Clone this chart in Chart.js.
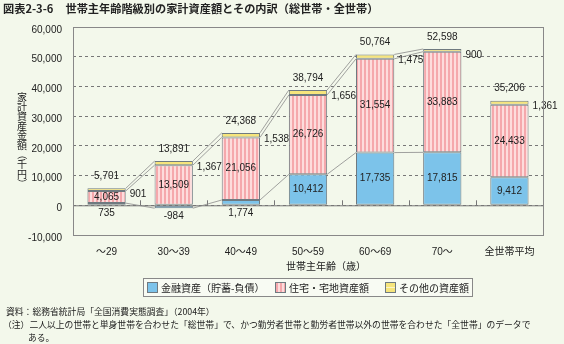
<!DOCTYPE html>
<html>
<head>
<meta charset="utf-8">
<script src="https://cdn.jsdelivr.net/npm/chart.js@4.4.1/dist/chart.umd.min.js"></script>
<style>
  body { margin: 0; background: #f3f8eb; font-family: 'Liberation Sans', 'Noto Sans CJK JP', sans-serif; }
  #wrap { position: relative; width: 564px; height: 344px; overflow: hidden; }
  #c { position: absolute; left: 0; top: 0; }
  .title { position: absolute; left: 3px; top: 0px; font: bold 11.2px 'Noto Sans CJK JP', sans-serif; color: #222; white-space: nowrap; }
  .title span { margin-left: 12px; }
  .note { position: absolute; left: 6px; font: 8.8px 'Noto Sans CJK JP', sans-serif; color: #222; white-space: nowrap; }
</style>
</head>
<body>
<div id="wrap">
  <canvas id="c" width="564" height="344"></canvas>
  <div class="title">図表2-3-6<span>世帯主年齢階級別の家計資産額とその内訳（総世帯・全世帯）</span></div>
  <div class="note" style="top:305px">資料：総務省統計局「全国消費実態調査」（2004年）</div>
  <div class="note" style="top:318px; left:3px">（注）二人以上の世帯と単身世帯を合わせた「総世帯」で、かつ勤労者世帯と勤労者世帯以外の世帯を合わせた「全世帯」のデータで</div>
  <div class="note" style="top:331px; left:28px">ある。</div>
</div>
<script>
const categories = ['～29', '30～39', '40～49', '50～59', '60～69', '70～', '全世帯平均'];
const financial = [735, -984, 1774, 10412, 17735, 17815, 9412];
const housing = [4065, 13509, 21056, 26726, 31554, 33883, 24433];
const other = [901, 1367, 1538, 1656, 1475, 900, 1361];
const totals = [5701, 13891, 24368, 38794, 50764, 52598, 35206];
const seriesNames = ['金融資産（貯蓄-負債）', '住宅・宅地資産額', 'その他の資産額'];
const yMin = -10000, yMax = 60000, yStep = 10000;
const xTitle = '世帯主年齢（歳）';
const yTitle = '家計資産金額（千円）';

const numFont = "10px 'Liberation Sans', 'Noto Sans CJK JP', sans-serif";
const jpFont = "10px 'Noto Sans CJK JP', sans-serif";
const fmt = v => v.toLocaleString('en-US');

// pink vertical stripes
function stripes() {
  const p = document.createElement('canvas');
  p.width = 4; p.height = 4;
  const g = p.getContext('2d');
  g.fillStyle = '#fddcdc'; g.fillRect(0, 0, 4, 4);
  g.fillStyle = '#f5a8ac'; g.fillRect(0, 0, 2, 4);
  return g.createPattern(p, 'repeat');
}
const ctx = document.getElementById('c').getContext('2d');
const pink = stripes();
const colors = ['#7cc3ea', pink, '#f6e57c'];

const extras = {
  id: 'extras',
  beforeDatasetsDraw(chart) {
    const { ctx, chartArea: a, scales: { x, y } } = chart;
    const y0 = y.getPixelForValue(0);
    ctx.save();
    ctx.strokeStyle = '#777'; ctx.lineWidth = 1;
    ctx.beginPath();
    ctx.moveTo(a.left, y0 + 0.5); ctx.lineTo(a.right, y0 + 0.5);
    for (let i = 1; i < categories.length; i++) {
      const bx = Math.round((x.getPixelForValue(i - 1) + x.getPixelForValue(i)) / 2) + 0.5;
      ctx.moveTo(bx, y0); ctx.lineTo(bx, y0 - 5);
    }
    ctx.stroke();
    ctx.restore();
  },
  afterDatasetsDraw(chart) {
    const { ctx } = chart;
    const metas = [0, 1, 2].map(d => chart.getDatasetMeta(d).data);
    ctx.save();
    // series lines
    ctx.strokeStyle = '#8a8a8a'; ctx.lineWidth = 0.8;
    for (let d = 0; d < 3; d++) {
      for (let i = 0; i < 5; i++) {
        const b1 = metas[d][i], b2 = metas[d][i + 1];
        ctx.beginPath();
        ctx.moveTo(b1.x + b1.width / 2, b1.y);
        ctx.lineTo(b2.x - b2.width / 2, b2.y);
        ctx.stroke();
      }
    }
    // value labels
    ctx.font = numFont; ctx.fillStyle = '#222'; ctx.textBaseline = 'middle';
    categories.forEach((c, i) => {
      const b = metas[0][i], h = metas[1][i], o = metas[2][i];
      ctx.textAlign = 'center';
      if (Math.abs(financial[i]) > 5000) ctx.fillText(fmt(financial[i]), b.x, (b.y + b.base) / 2);
      else ctx.fillText(fmt(financial[i]), b.x, Math.max(b.y, b.base) + 8);
      ctx.fillText(fmt(housing[i]), h.x, (h.y + h.base) / 2);
      ctx.fillText(fmt(totals[i]), o.x, o.y - 12);
      ctx.textAlign = 'left';
      ctx.fillText(fmt(other[i]), o.x + o.width / 2 + 4, o.y + 6);
    });
    ctx.restore();
  },
  afterDraw(chart) {
    const { ctx, chartArea: a } = chart;
    ctx.save();
    ctx.strokeStyle = '#888'; ctx.lineWidth = 1;
    ctx.strokeRect(a.left + 0.5, a.top + 0.5, a.right - a.left, a.bottom - a.top);
    ctx.fillStyle = '#222'; ctx.font = jpFont;
    ctx.textAlign = 'center'; ctx.textBaseline = 'middle';
    ctx.fillText(xTitle, 326, 266);
    // vertical y title
    let ty = 97;
    for (const ch of yTitle) {
      if (ch === '（' || ch === '）') {
        ctx.save(); ctx.translate(22, ty); ctx.rotate(Math.PI / 2);
        ctx.fillText(ch, 0, 0); ctx.restore();
      } else ctx.fillText(ch, 22, ty);
      ty += 9.6;
    }
    // legend
    const lx = 143, ly = 278;
    ctx.fillStyle = '#f8fbf3'; ctx.fillRect(lx, ly, 329, 18);
    ctx.strokeStyle = '#888'; ctx.strokeRect(lx + 0.5, ly + 0.5, 329, 18);
    const items = [[147, 0], [275, 1], [385, 2]];
    ctx.textAlign = 'left';
    items.forEach(([ix, d]) => {
      ctx.fillStyle = colors[d];
      ctx.fillRect(ix, ly + 4, 11, 11);
      if (d === 2) { ctx.fillStyle = '#fbf4c8'; ctx.fillRect(ix + 1, ly + 9, 9, 1); }
      ctx.strokeStyle = '#6f7a80';
      ctx.strokeRect(ix + 0.5, ly + 4.5, 10, 10);
      ctx.fillStyle = '#222';
      ctx.fillText(seriesNames[d], ix + 14, ly + 10);
    });
    ctx.restore();
  }
};

new Chart(ctx, {
  type: 'bar',
  data: {
    labels: categories,
    datasets: [financial, housing, other].map((v, d) => ({
      label: seriesNames[d],
      data: v,
      backgroundColor: colors[d],
      borderColor: '#6f7a80',
      borderWidth: 1,
      borderSkipped: false,
      categoryPercentage: 1,
      barPercentage: 0.57
    }))
  },
  options: {
    responsive: false,
    animation: false,
    layout: { padding: { left: 0, right: 21, top: 27, bottom: 69 } },
    plugins: { legend: { display: false }, tooltip: { enabled: false } },
    scales: {
      x: {
        stacked: true,
        grid: { display: false },
        border: { display: false },
        ticks: { color: '#222', font: { size: 10, family: "'Liberation Sans', 'Noto Sans CJK JP', sans-serif" }, padding: 3, maxRotation: 0 },
        afterFit: s => { s.height = 40; }
      },
      y: {
        stacked: true,
        min: yMin, max: yMax,
        grid: { color: '#777', drawTicks: false },
        border: { display: false, dash: [3, 3] },
        ticks: { stepSize: yStep, color: '#222', padding: 11, labelOffset: 3, font: { size: 10, family: "'Liberation Sans', sans-serif" }, callback: v => fmt(v) },
        afterFit: s => { s.width = 73; }
      }
    }
  },
  plugins: [extras]
});
</script>
</body>
</html>
